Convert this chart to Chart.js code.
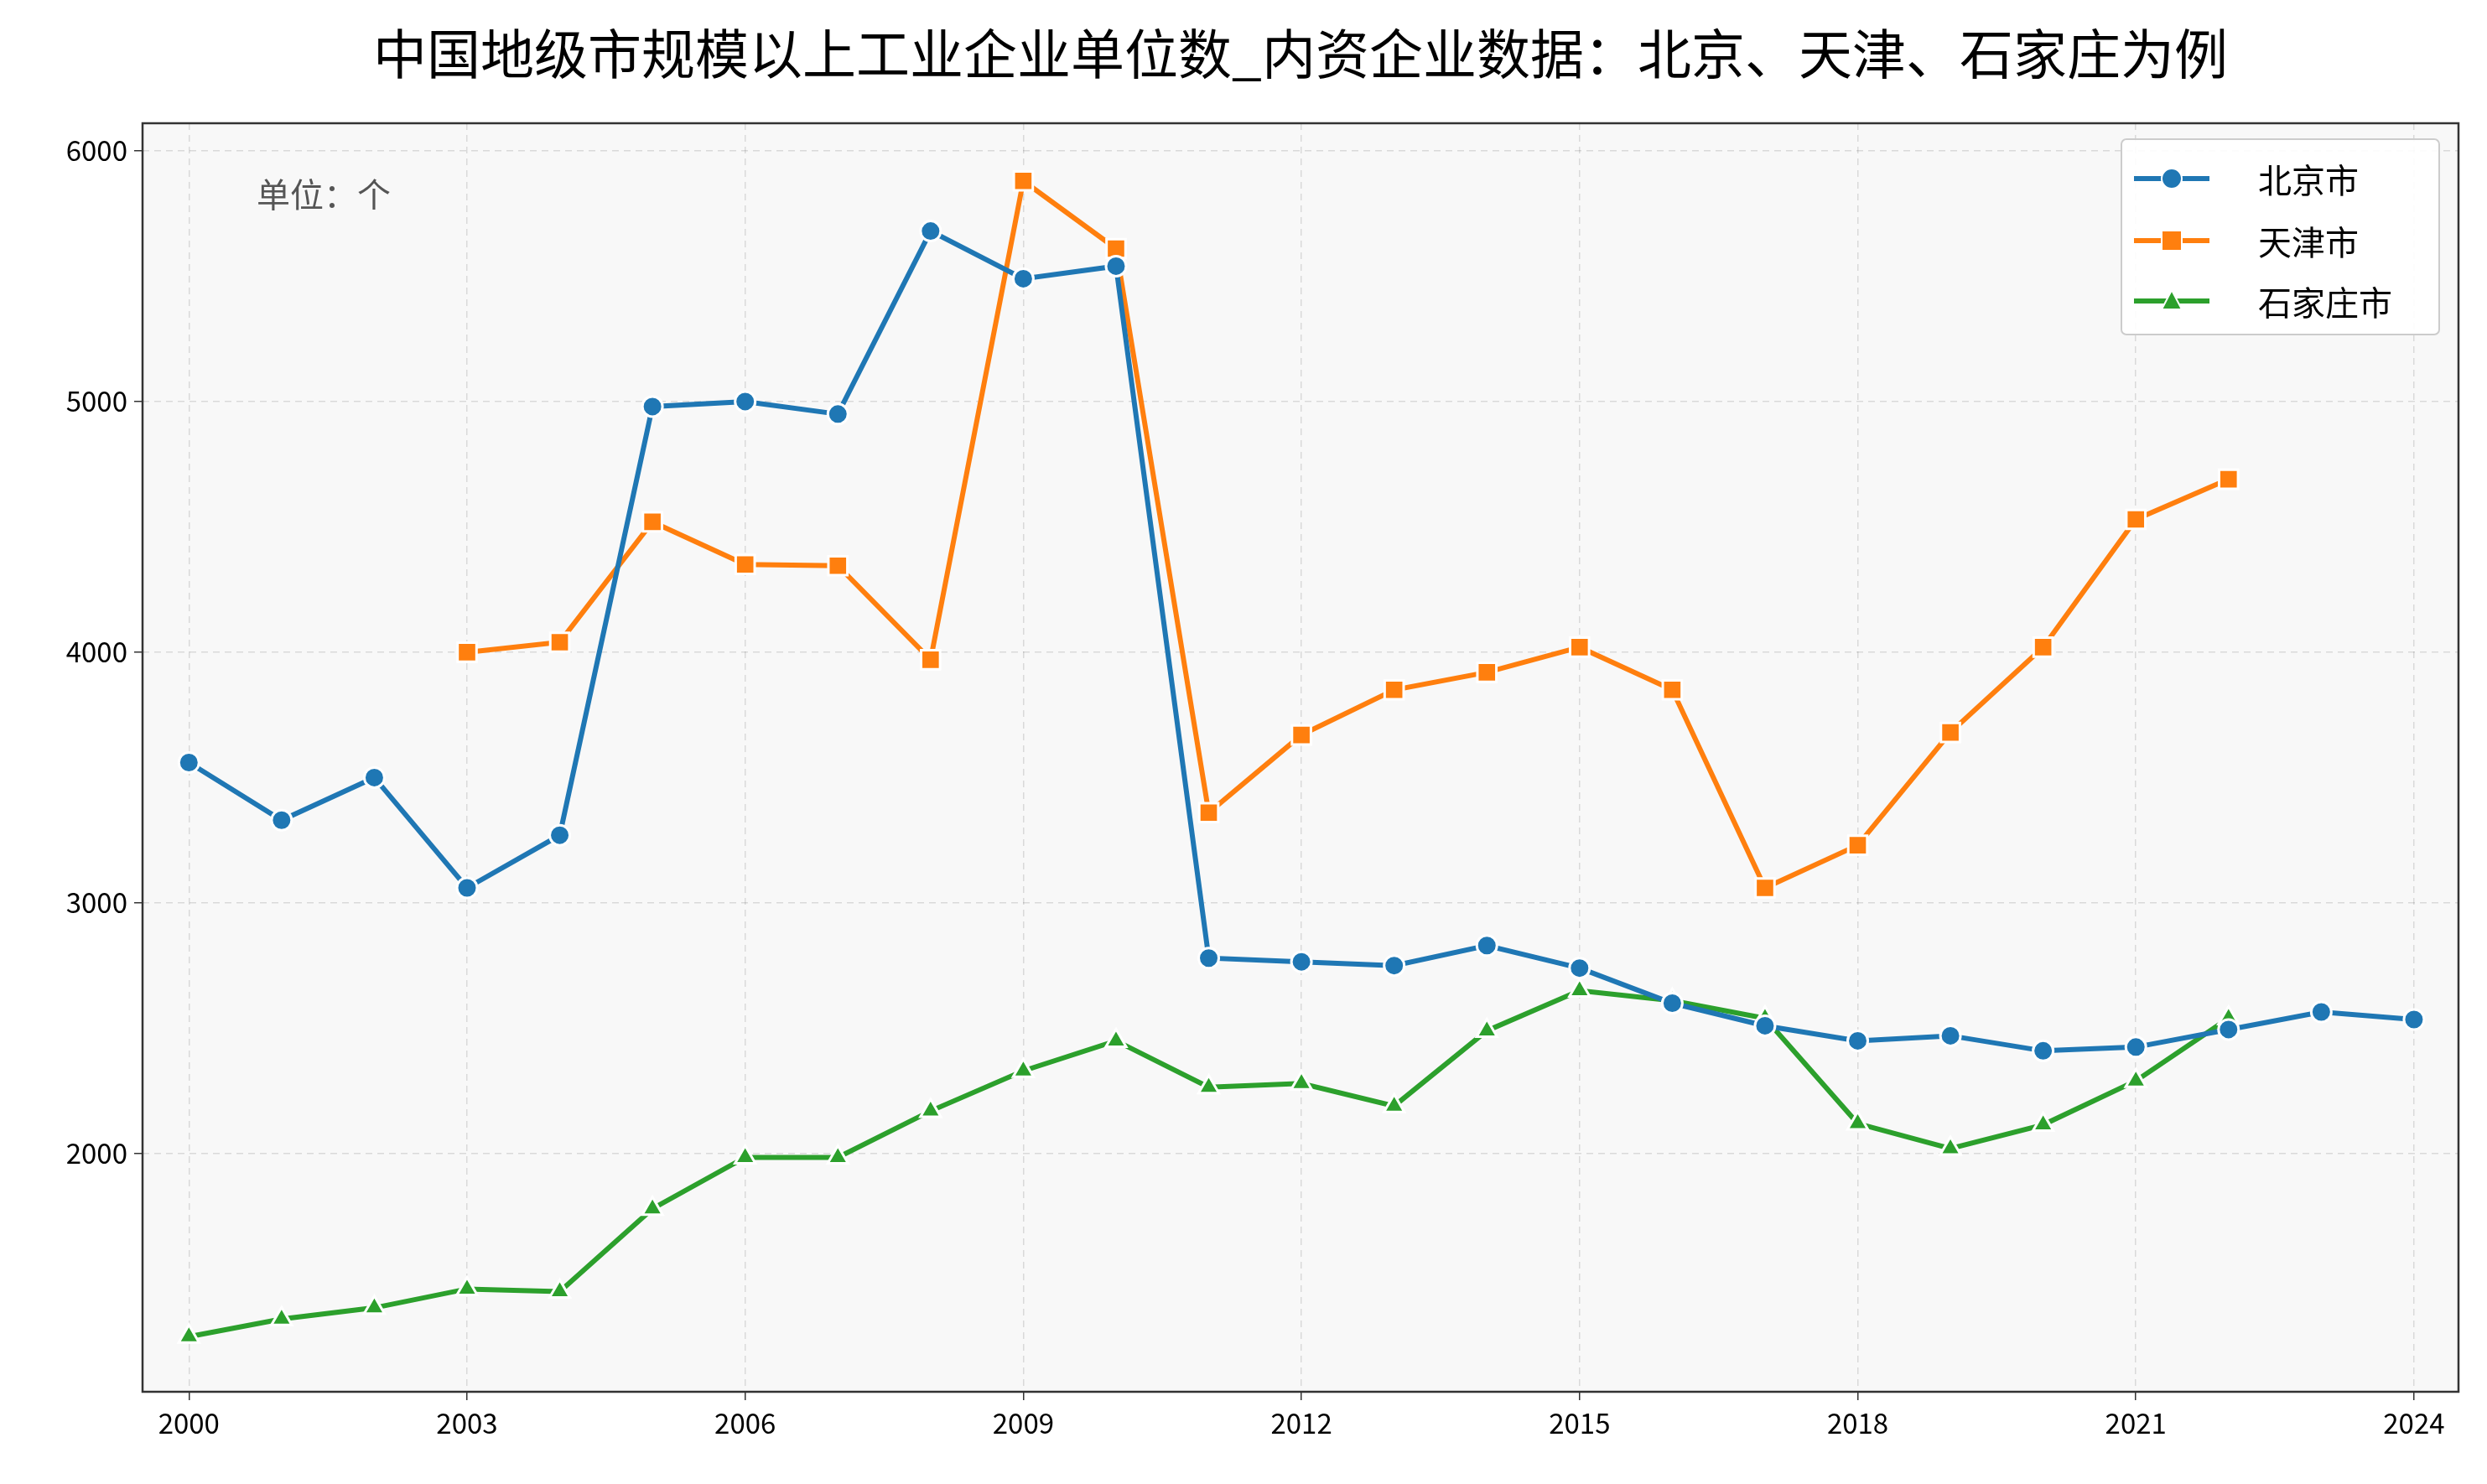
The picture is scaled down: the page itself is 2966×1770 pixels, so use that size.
<!DOCTYPE html>
<html><head><meta charset="utf-8">
<script src="https://cdn.jsdelivr.net/npm/chart.js@4/dist/chart.umd.min.js"></script>
<style>html,body{margin:0;padding:0;background:#fff}</style>
</head><body>
<canvas id="c" width="2966" height="1770" style="width:2966px;height:1770px"></canvas>
<script>
const title = "中国地级市规模以上工业企业单位数_内资企业数据：北京、天津、石家庄为例";
const unitLabel = "单位：个";
const years = [2000,2001,2002,2003,2004,2005,2006,2007,2008,2009,2010,2011,2012,2013,2014,2015,2016,2017,2018,2019,2020,2021,2022,2023,2024];
const beijing = [3560,3330,3500,3060,3270,4980,5000,4950,5680,5490,5540,2780,2765,2750,2830,2740,2600,2510,2450,2470,2410,2425,2495,2565,2535];
const tianjin = [null,null,null,4000,4040,4520,4350,4345,3970,5880,5610,3360,3670,3850,3920,4020,3850,3060,3230,3680,4020,4530,4690,null,null];
const shijiazhuang = [1270,1340,1385,1460,1450,1780,1985,1985,2170,2330,2450,2265,2280,2190,2490,2650,2610,2540,2120,2020,2115,2290,2540,null,null];
const seriesNames = ["北京市","天津市","石家庄市"];
const colors = ["#1f77b4","#ff7f0e","#2ca02c"];
const shapes = ["circle","rect","triangle"];
const yTicks = [2000,3000,4000,5000,6000];
const xTicks = [2000,2003,2006,2009,2012,2015,2018,2021,2024];
const FONT = "'Noto Sans CJK SC','DejaVu Sans',sans-serif";

function pts(arr){return years.map((y,i)=>arr[i]==null?null:{x:y,y:arr[i]}).filter(p=>p);}
const radii=[12,16,14];
const datasets=[beijing,tianjin,shijiazhuang].map((d,i)=>({
  label:seriesNames[i],data:pts(d),borderColor:colors[i],backgroundColor:colors[i],
  borderWidth:6,pointStyle:shapes[i],pointRadius:radii[i],pointBorderColor:'#fff',pointBorderWidth:3,
  pointBackgroundColor:colors[i],tension:0
}));

const deco={id:'deco',
 beforeDraw(ch){const {ctx,chartArea:a}=ch;ctx.save();ctx.fillStyle='#f8f8f8';ctx.fillRect(a.left,a.top,a.right-a.left,a.bottom-a.top);ctx.restore();},
 afterDraw(ch){const {ctx,chartArea:a}=ch;ctx.save();
  ctx.strokeStyle='#333';ctx.lineWidth=2.5;ctx.strokeRect(a.left,a.top,a.right-a.left,a.bottom-a.top);
  ctx.fillStyle='#000';ctx.font="400 64px "+FONT;ctx.textAlign='center';ctx.textBaseline='middle';
  ctx.fillText(title,(a.left+a.right)/2,64);
  ctx.fillStyle='#555';ctx.font="40px "+FONT;ctx.textAlign='left';ctx.fillText(unitLabel,306,232);
  const bx=2530,by=166,bw=379,bh=233;
  ctx.fillStyle='rgba(255,255,255,0.9)';ctx.strokeStyle='#ccc';ctx.lineWidth=2;
  ctx.beginPath();ctx.roundRect(bx,by,bw,bh,6);ctx.fill();ctx.stroke();
  const ys=[213,287,359];
  ys.forEach((y,i)=>{ctx.strokeStyle=colors[i];ctx.lineWidth=6;ctx.beginPath();ctx.moveTo(2545,y);ctx.lineTo(2635,y);ctx.stroke();
   ctx.fillStyle=colors[i];ctx.strokeStyle='#fff';ctx.lineWidth=2;ctx.beginPath();
   if(i==0){ctx.arc(2590,y,12,0,Math.PI*2);}else if(i==1){ctx.rect(2578,y-12,24,24);}else{ctx.moveTo(2590,y-13);ctx.lineTo(2602,y+10);ctx.lineTo(2578,y+10);ctx.closePath();}
   ctx.fill();ctx.stroke();
   ctx.fillStyle='#000';ctx.font="40px "+FONT;ctx.textAlign='left';ctx.fillText(seriesNames[i],2693,y+2);});
  ctx.restore();}};

new Chart(document.getElementById('c'),{type:'line',data:{datasets},
 options:{responsive:false,devicePixelRatio:1,animation:false,
  layout:{padding:{top:147,right:34,left:0,bottom:0}},
  plugins:{legend:{display:false},title:{display:false},tooltip:{enabled:false}},
  scales:{
   x:{type:'linear',min:1999.5,max:2024.48,
     afterBuildTicks(s){s.ticks=xTicks.map(v=>({value:v}));},
     afterFit(s){s.height=110;},
     ticks:{color:'#000',font:{size:33,family:FONT},padding:8,callback:v=>String(v),maxRotation:0,autoSkip:false},
     grid:{color:'rgba(0,0,0,0.12)',lineWidth:1.5,tickLength:10,tickColor:'#333'},border:{display:false,dash:[8,6]}},
   y:{min:1050,max:6110,
     afterBuildTicks(s){s.ticks=yTicks.map(v=>({value:v}));},
     afterFit(s){s.width=170;},
     ticks:{color:'#000',font:{size:33,family:FONT},padding:8,callback:v=>String(v)},
     grid:{color:'rgba(0,0,0,0.12)',lineWidth:1.5,tickLength:10,tickColor:'#333'},border:{display:false,dash:[8,6]}}
  }},plugins:[deco]});
</script></body></html>
